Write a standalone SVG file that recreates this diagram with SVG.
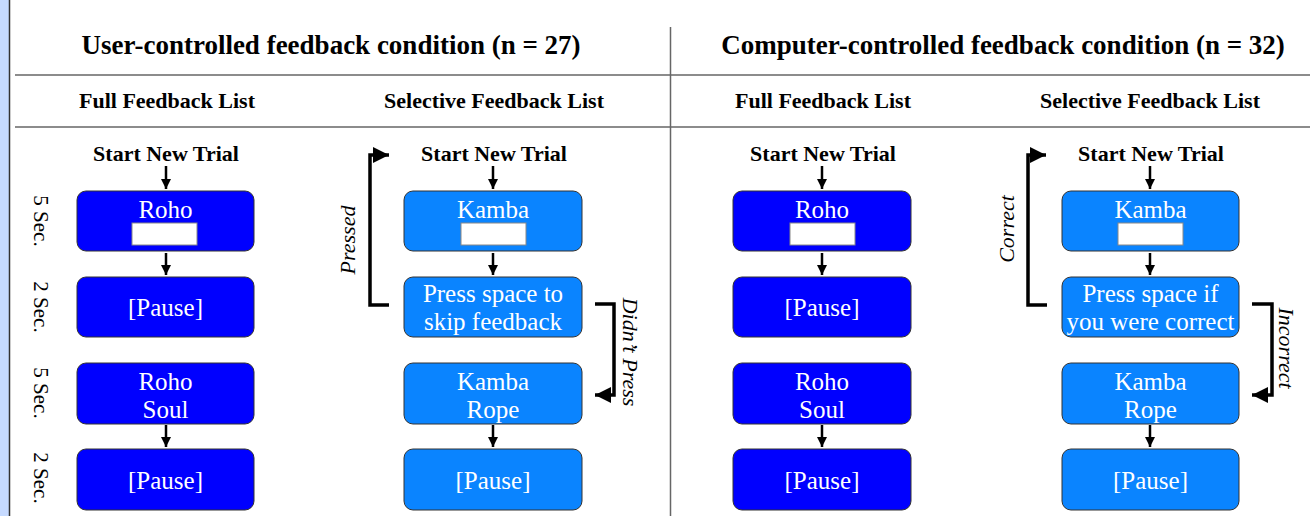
<svg xmlns="http://www.w3.org/2000/svg" width="1310" height="516" viewBox="0 0 1310 516">
  <defs>
    <marker id="ah" viewBox="0 0 10 10" refX="10" refY="5" markerWidth="4" markerHeight="4" markerUnits="strokeWidth" orient="auto">
      <path d="M0,0 L10,5 L0,10 Z" fill="#000"/>
    </marker>
    <marker id="ahBig" viewBox="0 0 10 10" refX="10" refY="5" markerWidth="4.6" markerHeight="4.6" markerUnits="strokeWidth" orient="auto">
      <path d="M0,0 L10,5 L0,10 Z" fill="#000"/>
    </marker>
    <style>
      .title { font-family: "Liberation Serif", "Times New Roman", serif; font-weight: bold; font-size: 27px; fill: #000; text-anchor: middle; }
      .sub { font-family: "Liberation Serif", "Times New Roman", serif; font-weight: bold; font-size: 22px; fill: #000; text-anchor: middle; }
      .box-full { fill: #0000FF; stroke: #333; stroke-width: 1; }
      .box-sel { fill: #0A84FF; stroke: #333; stroke-width: 1; }
      .btxt { font-family: "Liberation Serif", "Times New Roman", serif; font-size: 25px; fill: #fff; text-anchor: middle; }
      .blank { fill: #fff; stroke: #888; stroke-width: 1; }
      .time { font-family: "Liberation Serif", "Times New Roman", serif; font-size: 21px; fill: #000; text-anchor: middle; }
      .loop-lbl { font-family: "Liberation Serif", "Times New Roman", serif; font-style: italic; font-size: 22px; fill: #000; text-anchor: middle; }
      .rule { stroke: #666; stroke-width: 1.5; fill: none; }
      .step { stroke: #000; stroke-width: 2.5; fill: none; marker-end: url(#ah); }
      .loop { stroke: #000; stroke-width: 3.5; fill: none; marker-end: url(#ahBig); }
    </style>
  </defs>

  <!-- page frame -->
  <rect x="0" y="0" width="1310" height="516" fill="#fff"/>
  <rect x="0" y="0" width="9" height="516" fill="#C6DAFF"/>
  <line x1="9.5" y1="0" x2="9.5" y2="516" stroke="#333" stroke-width="1.5"/>

  <!-- table rules -->
  <g id="rules">
    <line class="rule" x1="15" y1="75" x2="1310" y2="75"/>
    <line class="rule" x1="15" y1="127" x2="1310" y2="127"/>
    <line class="rule" x1="670.5" y1="27" x2="670.5" y2="516"/>
  </g>

  <!-- headings -->
  <g id="headings">
    <text class="title" x="331" y="53.5">User-controlled feedback condition (n = 27)</text>
    <text class="title" x="1003" y="53.5">Computer-controlled feedback condition (n = 32)</text>
    <text class="sub" x="167" y="107.5">Full Feedback List</text>
    <text class="sub" x="494" y="107.5">Selective Feedback List</text>
    <text class="sub" x="823" y="107.5">Full Feedback List</text>
    <text class="sub" x="1150" y="107.5">Selective Feedback List</text>
    <text class="sub" x="166" y="160.5">Start New Trial</text>
    <text class="sub" x="494" y="160.5">Start New Trial</text>
    <text class="sub" x="823" y="160.5">Start New Trial</text>
    <text class="sub" x="1151" y="160.5">Start New Trial</text>
  </g>

  <!-- timing labels -->
  <g id="timing">
    <text class="time" transform="translate(34,221) rotate(90)">5 Sec.</text>
    <text class="time" transform="translate(34,307) rotate(90)">2 Sec.</text>
    <text class="time" transform="translate(34,393) rotate(90)">5 Sec.</text>
    <text class="time" transform="translate(34,478) rotate(90)">2 Sec.</text>
  </g>

  <!-- User-controlled, full list -->
  <g id="u-full-1">
    <rect class="box-full" x="77" y="191" width="177" height="60" rx="9"/>
    <text class="btxt" x="165.5" y="218">Roho</text>
    <rect class="blank" x="132" y="223" width="65" height="22"/>
  </g>
  <g id="u-full-2">
    <rect class="box-full" x="77" y="277" width="177" height="60" rx="9"/>
    <text class="btxt" x="165.5" y="316">[Pause]</text>
  </g>
  <g id="u-full-3">
    <rect class="box-full" x="77" y="363" width="177" height="61" rx="9"/>
    <text class="btxt" x="165.5" y="390">Roho</text>
    <text class="btxt" x="165.5" y="418">Soul</text>
  </g>
  <g id="u-full-4">
    <rect class="box-full" x="77" y="449" width="177" height="61" rx="9"/>
    <text class="btxt" x="165.5" y="489">[Pause]</text>
  </g>

  <!-- User-controlled, selective list -->
  <g id="u-sel-1">
    <rect class="box-sel" x="404" y="191" width="178" height="60" rx="9"/>
    <text class="btxt" x="493" y="218">Kamba</text>
    <rect class="blank" x="461" y="223" width="65" height="22"/>
  </g>
  <g id="u-sel-2">
    <rect class="box-sel" x="404" y="277" width="178" height="60" rx="9"/>
    <text class="btxt" x="493" y="302">Press space to</text>
    <text class="btxt" x="493" y="330">skip feedback</text>
  </g>
  <g id="u-sel-3">
    <rect class="box-sel" x="404" y="363" width="178" height="61" rx="9"/>
    <text class="btxt" x="493" y="390">Kamba</text>
    <text class="btxt" x="493" y="418">Rope</text>
  </g>
  <g id="u-sel-4">
    <rect class="box-sel" x="404" y="449" width="178" height="61" rx="9"/>
    <text class="btxt" x="493" y="489">[Pause]</text>
  </g>

  <!-- Computer-controlled, full list -->
  <g id="c-full-1">
    <rect class="box-full" x="733" y="191" width="178" height="60" rx="9"/>
    <text class="btxt" x="822" y="218">Roho</text>
    <rect class="blank" x="790" y="223" width="65" height="22"/>
  </g>
  <g id="c-full-2">
    <rect class="box-full" x="733" y="277" width="178" height="60" rx="9"/>
    <text class="btxt" x="822" y="316">[Pause]</text>
  </g>
  <g id="c-full-3">
    <rect class="box-full" x="733" y="363" width="178" height="61" rx="9"/>
    <text class="btxt" x="822" y="390">Roho</text>
    <text class="btxt" x="822" y="418">Soul</text>
  </g>
  <g id="c-full-4">
    <rect class="box-full" x="733" y="449" width="178" height="61" rx="9"/>
    <text class="btxt" x="822" y="489">[Pause]</text>
  </g>

  <!-- Computer-controlled, selective list -->
  <g id="c-sel-1">
    <rect class="box-sel" x="1062" y="191" width="177" height="60" rx="9"/>
    <text class="btxt" x="1150.5" y="218">Kamba</text>
    <rect class="blank" x="1118" y="223" width="65" height="22"/>
  </g>
  <g id="c-sel-2">
    <rect class="box-sel" x="1062" y="277" width="177" height="60" rx="9"/>
    <text class="btxt" x="1150.5" y="302">Press space if</text>
    <text class="btxt" x="1150.5" y="330">you were correct</text>
  </g>
  <g id="c-sel-3">
    <rect class="box-sel" x="1062" y="363" width="177" height="61" rx="9"/>
    <text class="btxt" x="1150.5" y="390">Kamba</text>
    <text class="btxt" x="1150.5" y="418">Rope</text>
  </g>
  <g id="c-sel-4">
    <rect class="box-sel" x="1062" y="449" width="177" height="61" rx="9"/>
    <text class="btxt" x="1150.5" y="489">[Pause]</text>
  </g>

  <!-- connectors -->
  <g id="connectors">
    <line class="step" x1="166" y1="166" x2="166" y2="189"/>
    <line class="step" x1="166" y1="253" x2="166" y2="275"/>
    <line class="step" x1="166" y1="425" x2="166" y2="447"/>

    <line class="step" x1="493" y1="166" x2="493" y2="189"/>
    <line class="step" x1="493" y1="253" x2="493" y2="275"/>
    <line class="step" x1="493" y1="425" x2="493" y2="447"/>

    <line class="step" x1="822" y1="166" x2="822" y2="189"/>
    <line class="step" x1="822" y1="253" x2="822" y2="275"/>
    <line class="step" x1="822" y1="425" x2="822" y2="447"/>

    <line class="step" x1="1150" y1="166" x2="1150" y2="189"/>
    <line class="step" x1="1150" y1="253" x2="1150" y2="275"/>
    <line class="step" x1="1150" y1="425" x2="1150" y2="447"/>

    <!-- repeat / continue loops -->
    <polyline class="loop" points="389,305 370,305 370,155 389,155"/>
    <polyline class="loop" points="595,304 614,304 614,395 595,395"/>
    <polyline class="loop" points="1047,305 1028,305 1028,155 1046,155"/>
    <polyline class="loop" points="1252,304 1272,304 1272,395 1252,395"/>

    <text class="loop-lbl" transform="translate(355,240) rotate(-90)">Pressed</text>
    <text class="loop-lbl" transform="translate(623,352) rotate(90)">Didn’t Press</text>
    <text class="loop-lbl" transform="translate(1014,229) rotate(-90)">Correct</text>
    <text class="loop-lbl" transform="translate(1279,348) rotate(90)">Incorrect</text>
  </g>
</svg>
